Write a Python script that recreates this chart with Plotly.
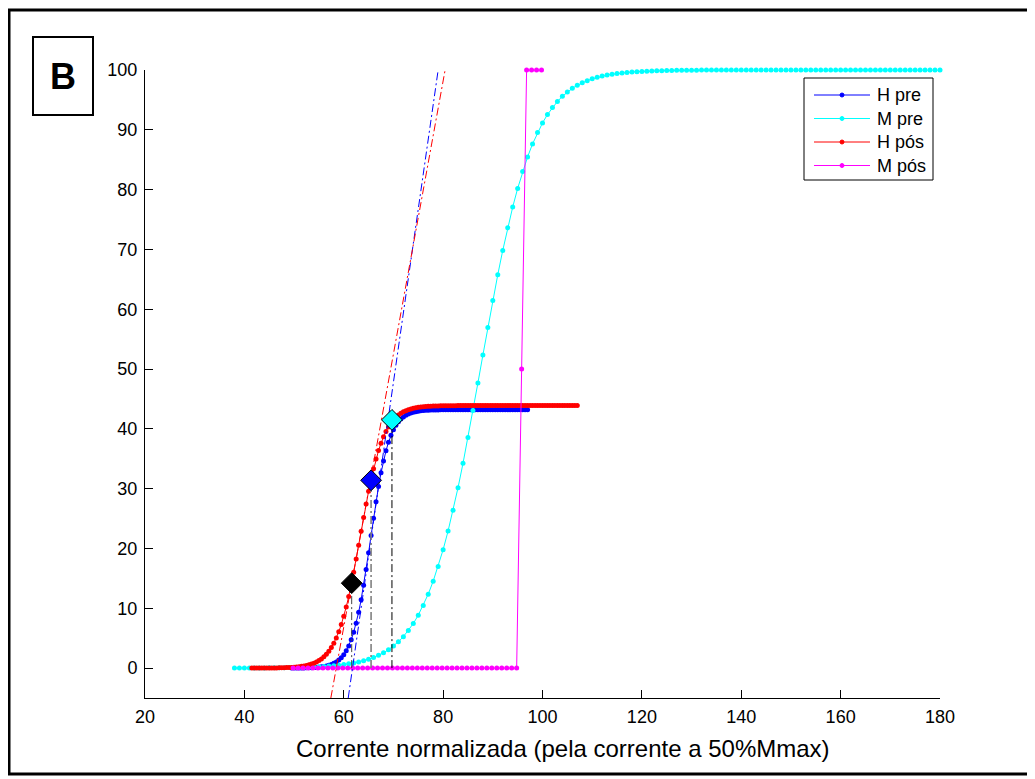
import plotly.graph_objects as go

# ---------------- data ----------------
blue_x = [
    49.5, 50.0, 50.5, 51.0, 51.5, 52.0, 52.5, 53.0, 53.5, 54.0,
    54.5, 55.0, 55.5, 56.0, 56.5, 57.0, 57.5, 58.0, 58.5, 59.0,
    59.5, 60.0, 60.5, 61.0, 61.5, 62.0, 62.5, 63.0, 63.5, 64.0,
    64.5, 65.0, 65.5, 66.0, 66.5, 67.0, 67.5, 68.0, 68.5, 69.0,
    69.5, 70.0, 70.5, 71.0, 71.5, 72.0, 72.5, 73.0, 73.5, 74.0,
    74.5, 75.0, 75.5, 76.0, 76.5, 77.0, 77.5, 78.0, 78.5, 79.0,
    79.5, 80.0, 80.5, 81.0, 81.5, 82.0, 82.5, 83.0, 83.5, 84.0,
    84.5, 85.0, 85.5, 86.0, 86.5, 87.0, 87.5, 88.0, 88.5, 89.0,
    89.5, 90.0, 90.5, 91.0, 91.5, 92.0, 92.5, 93.0, 93.5, 94.0,
    94.5, 95.0, 95.5, 96.0, 96.5, 97.0]
blue_y = [
    0.01, 0.01, 0.01, 0.02, 0.02, 0.03, 0.04, 0.05, 0.07, 0.09,
    0.12, 0.16, 0.21, 0.28, 0.36, 0.47, 0.61, 0.79, 1.03, 1.34,
    1.74, 2.25, 2.89, 3.71, 4.73, 5.98, 7.51, 9.33, 11.43, 13.85,
    16.49, 19.29, 22.19, 25.06, 27.80, 30.36, 32.65, 34.64, 36.33, 37.76,
    38.92, 39.84, 40.59, 41.17, 41.64, 41.99, 42.27, 42.49, 42.65, 42.78,
    42.88, 42.95, 43.01, 43.06, 43.10, 43.12, 43.14, 43.15, 43.16, 43.17,
    43.18, 43.18, 43.19, 43.19, 43.19, 43.2, 43.2, 43.2, 43.2, 43.2,
    43.2, 43.2, 43.2, 43.2, 43.2, 43.2, 43.2, 43.2, 43.2, 43.2,
    43.2, 43.2, 43.2, 43.2, 43.2, 43.2, 43.2, 43.2, 43.2, 43.2,
    43.2, 43.2, 43.2, 43.2, 43.2, 43.2]

cyan_x = [
    38, 39, 40, 41, 42, 43, 44, 45, 46, 47,
    48, 49, 50, 51, 52, 53, 54, 55, 56, 57,
    58, 59, 60, 61, 62, 63, 64, 65, 66, 67,
    68, 69, 70, 71, 72, 73, 74, 75, 76, 77,
    78, 79, 80, 81, 82, 83, 84, 85, 86, 87,
    88, 89, 90, 91, 92, 93, 94, 95, 96, 97,
    98, 99, 100, 101, 102, 103, 104, 105, 106, 107,
    108, 109, 110, 111, 112, 113, 114, 115, 116, 117,
    118, 119, 120, 121, 122, 123, 124, 125, 126, 127,
    128, 129, 130, 131, 132, 133, 134, 135, 136, 137,
    138, 139, 140, 141, 142, 143, 144, 145, 146, 147,
    148, 149, 150, 151, 152, 153, 154, 155, 156, 157,
    158, 159, 160, 161, 162, 163, 164, 165, 166, 167,
    168, 169, 170, 171, 172, 173, 174, 175, 176, 177,
    178, 179, 180]
cyan_y = [
    0.01, 0.01, 0.01, 0.02, 0.02, 0.02, 0.03, 0.04, 0.04, 0.05,
    0.06, 0.08, 0.09, 0.11, 0.13, 0.16, 0.19, 0.23, 0.28, 0.34,
    0.41, 0.49, 0.59, 0.71, 0.85, 1.03, 1.23, 1.48, 1.78, 2.14,
    2.56, 3.07, 3.68, 4.40, 5.26, 6.27, 7.45, 8.85, 10.47, 12.36,
    14.53, 16.99, 19.80, 22.92, 26.38, 30.16, 34.23, 38.55, 43.05, 47.67,
    52.33, 56.95, 61.45, 65.77, 69.84, 73.62, 77.08, 80.20, 83.01, 85.47,
    87.64, 89.53, 91.15, 92.55, 93.73, 94.74, 95.60, 96.32, 96.93, 97.44,
    97.86, 98.22, 98.52, 98.77, 98.98, 99.15, 99.29, 99.41, 99.51, 99.60,
    99.66, 99.72, 99.77, 99.81, 99.84, 99.87, 99.89, 99.91, 99.93, 99.94,
    99.95, 99.96, 99.97, 99.97, 99.98, 99.98, 99.99, 99.99, 99.99, 99.99,
    100.0, 100.0, 100.0, 100.0, 100.0, 100.0, 100.0, 100.0, 100.0, 100.0,
    100.0, 100.0, 100.0, 100.0, 100.0, 100.0, 100.0, 100.0, 100.0, 100.0,
    100.0, 100.0, 100.0, 100.0, 100.0, 100.0, 100.0, 100.0, 100.0, 100.0,
    100.0, 100.0, 100.0, 100.0, 100.0, 100.0, 100.0, 100.0, 100.0, 100.0,
    100.0, 100.0, 100.0]

red_x = [
    41.5, 42.0, 42.5, 43.0, 43.5, 44.0, 44.5, 45.0, 45.5, 46.0,
    46.5, 47.0, 47.5, 48.0, 48.5, 49.0, 49.5, 50.0, 50.5, 51.0,
    51.5, 52.0, 52.5, 53.0, 53.5, 54.0, 54.5, 55.0, 55.5, 56.0,
    56.5, 57.0, 57.5, 58.0, 58.5, 59.0, 59.5, 60.0, 60.5, 61.0,
    61.5, 62.0, 62.5, 63.0, 63.5, 64.0, 64.5, 65.0, 65.5, 66.0,
    66.5, 67.0, 67.5, 68.0, 68.5, 69.0, 69.5, 70.0, 70.5, 71.0,
    71.5, 72.0, 72.5, 73.0, 73.5, 74.0, 74.5, 75.0, 75.5, 76.0,
    76.5, 77.0, 77.5, 78.0, 78.5, 79.0, 79.5, 80.0, 80.5, 81.0,
    81.5, 82.0, 82.5, 83.0, 83.5, 84.0, 84.5, 85.0, 85.5, 86.0,
    86.5, 87.0, 87.5, 88.0, 88.5, 89.0, 89.5, 90.0, 90.5, 91.0,
    91.5, 92.0, 92.5, 93.0, 93.5, 94.0, 94.5, 95.0, 95.5, 96.0,
    96.5, 97.0, 97.5, 98.0, 98.5, 99.0, 99.5, 100.0, 100.5, 101.0,
    101.5, 102.0, 102.5, 103.0, 103.5, 104.0, 104.5, 105.0, 105.5, 106.0,
    106.5, 107.0]
red_y = [
    0.01, 0.01, 0.01, 0.01, 0.01, 0.01, 0.02, 0.02, 0.02, 0.03,
    0.03, 0.04, 0.05, 0.07, 0.08, 0.10, 0.12, 0.15, 0.19, 0.23,
    0.29, 0.36, 0.44, 0.54, 0.67, 0.82, 1.01, 1.25, 1.53, 1.88,
    2.30, 2.81, 3.43, 4.17, 5.04, 6.07, 7.27, 8.66, 10.23, 11.99,
    13.93, 16.02, 18.25, 20.55, 22.89, 25.20, 27.44, 29.56, 31.54, 33.33,
    34.95, 36.37, 37.60, 38.67, 39.57, 40.33, 40.97, 41.50, 41.94, 42.31,
    42.60, 42.84, 43.04, 43.20, 43.34, 43.44, 43.53, 43.60, 43.66, 43.70,
    43.74, 43.77, 43.79, 43.81, 43.83, 43.84, 43.85, 43.86, 43.87, 43.87,
    43.88, 43.88, 43.88, 43.89, 43.89, 43.89, 43.89, 43.9, 43.9, 43.9,
    43.9, 43.9, 43.9, 43.9, 43.9, 43.9, 43.9, 43.9, 43.9, 43.9,
    43.9, 43.9, 43.9, 43.9, 43.9, 43.9, 43.9, 43.9, 43.9, 43.9,
    43.9, 43.9, 43.9, 43.9, 43.9, 43.9, 43.9, 43.9, 43.9, 43.9,
    43.9, 43.9, 43.9, 43.9, 43.9, 43.9, 43.9, 43.9, 43.9, 43.9,
    43.9, 43.9]

magenta_x = [
    49.8, 50.8, 51.8, 52.8, 53.8, 54.8, 55.8, 56.8, 57.8, 58.8,
    59.8, 60.8, 61.8, 62.8, 63.8, 64.8, 65.8, 66.8, 67.8, 68.8,
    69.8, 70.8, 71.8, 72.8, 73.8, 74.8, 75.8, 76.8, 77.8, 78.8,
    79.8, 80.8, 81.8, 82.8, 83.8, 84.8, 85.8, 86.8, 87.8, 88.8,
    89.8, 90.8, 91.8, 92.8, 93.8, 94.8, 95.8, 96.8, 97.8, 98.8,
    99.8]
magenta_y = [
    0, 0, 0, 0, 0, 0, 0, 0, 0, 0,
    0, 0, 0, 0, 0, 0, 0, 0, 0, 0,
    0, 0, 0, 0, 0, 0, 0, 0, 0, 0,
    0, 0, 0, 0, 0, 0, 0, 0, 0, 0,
    0, 0, 0, 0, 0, 0, 50, 100, 100, 100,
    100]

series_names = ["H pre", "M pre", "H pós", "M pós"]
series_colors = ["#0000ff", "#00ffff", "#ff0000", "#ff00ff"]

# tangent (slope) lines through the steep part of H pre / H pós
tangent_y = [-5, 100]
tangent_blue_x = [60.9, 79.0]
tangent_red_x = [57.4, 80.4]

# diamond markers on the H pós curve and their drop lines
diamond_x = [61.6, 65.5, 69.7]
diamond_y = [14.2, 31.4, 41.5]

x_ticks = [20, 40, 60, 80, 100, 120, 140, 160, 180]
y_ticks = [0, 10, 20, 30, 40, 50, 60, 70, 80, 90, 100]
x_title = "Corrente normalizada (pela corrente a 50%Mmax)"
panel_label = "B"

# ---------------- styling / layout ----------------
FONT = "Liberation Sans, Arial, sans-serif"
OFF = 8                      # default page body margin
PAGE_W, PAGE_H = 1035, 779
W, H = PAGE_W - OFF, PAGE_H - OFF
PL, PR, PT, PB = 145, 940, 70, 698  # plot area in page pixels


def fx(p):
    return (p - PL) / (PR - PL)


def fy(p):
    return (PB - p) / (PB - PT)


fig = go.Figure()

curves = [(blue_x, blue_y), (cyan_x, cyan_y), (red_x, red_y), (magenta_x, magenta_y)]
for (xs, ys), name, col in zip(curves, series_names, series_colors):
    fig.add_trace(go.Scatter(
        x=xs, y=ys, mode="lines+markers", name=name, showlegend=False,
        line=dict(color=col, width=1),
        marker=dict(color=col, size=5, symbol="circle"),
        cliponaxis=False,
    ))

dd = "8px,3px,2px,3px"
fig.add_trace(go.Scatter(x=tangent_blue_x, y=tangent_y, mode="lines",
                         line=dict(color="#0000ff", width=1, dash=dd),
                         showlegend=False, hoverinfo="skip"))
fig.add_trace(go.Scatter(x=tangent_red_x, y=tangent_y, mode="lines",
                         line=dict(color="#ff0000", width=1, dash=dd),
                         showlegend=False, hoverinfo="skip"))

drop_colors = ["#444444", "#808080", "#000000"]
drop_widths = [1, 1.6, 1]
for xv, yv, c, w in zip(diamond_x, diamond_y, drop_colors, drop_widths):
    fig.add_trace(go.Scatter(x=[xv, xv], y=[0, yv], mode="lines",
                             line=dict(color=c, width=w, dash=dd),
                             showlegend=False, hoverinfo="skip"))

fig.add_trace(go.Scatter(
    x=diamond_x, y=diamond_y, mode="markers", showlegend=False,
    marker=dict(symbol="diamond", size=16,
                color=["#000000", "#0000ff", "#00ffff"],
                line=dict(color="#000000", width=1)),
))

axis_common = dict(
    showgrid=False, zeroline=False, showline=True, linecolor="#000000",
    linewidth=1, ticks="inside", ticklen=8, tickcolor="#000000",
    tickfont=dict(family=FONT, size=18, color="#000000"), mirror=False,
)
fig.update_xaxes(range=[20, 180], tickvals=x_ticks, ticklabelstandoff=2,
                 **axis_common)
fig.update_yaxes(range=[-5, 100], tickvals=y_ticks, ticklabelstandoff=3,
                 **axis_common)

# ---- shapes: outer frame, panel-label box, legend box ----
shapes = [
    dict(type="rect", xref="paper", yref="paper",
         x0=fx(9), x1=fx(1030), y0=fy(774), y1=fy(10),
         line=dict(color="#000000", width=3), layer="above"),
    dict(type="rect", xref="paper", yref="paper",
         x0=fx(33), x1=fx(93), y0=fy(115), y1=fy(37),
         line=dict(color="#000000", width=2), fillcolor="#ffffff"),
    dict(type="rect", xref="paper", yref="paper",
         x0=fx(804), x1=fx(933), y0=fy(180), y1=fy(78),
         line=dict(color="#000000", width=1), fillcolor="#ffffff", layer="above"),
]
annotations = [
    dict(text="<b>%s</b>" % panel_label, xref="paper", yref="paper",
         x=fx(63), y=fy(76), xanchor="center", yanchor="middle",
         showarrow=False, font=dict(family=FONT, size=36, color="#000000")),
    dict(text=x_title, xref="paper", yref="paper",
         x=fx(563), y=fy(748), xanchor="center", yanchor="middle",
         showarrow=False, font=dict(family=FONT, size=24, color="#000000")),
]
# legend entries (line sample, dot, label)
legend_rows = [95, 118.5, 142, 165.5]
for name, col, ry in zip(series_names, series_colors, legend_rows):
    shapes.append(dict(type="line", xref="paper", yref="paper",
                       x0=fx(814), x1=fx(870), y0=fy(ry), y1=fy(ry),
                       line=dict(color=col, width=1), layer="above"))
    shapes.append(dict(type="circle", xref="paper", yref="paper",
                       x0=fx(840), x1=fx(844), y0=fy(ry + 2), y1=fy(ry - 2),
                       line=dict(color=col, width=1), fillcolor=col, layer="above"))
    annotations.append(dict(text=name, xref="paper", yref="paper",
                            x=fx(875), y=fy(ry), xanchor="left", yanchor="middle",
                            showarrow=False,
                            font=dict(family=FONT, size=18, color="#000000")))

fig.update_layout(
    width=W, height=H, autosize=False,
    margin=dict(l=PL - OFF, r=PAGE_W - PR, t=PT - OFF, b=PAGE_H - PB),
    paper_bgcolor="#ffffff", plot_bgcolor="#ffffff",
    font=dict(family=FONT, color="#000000"),
    showlegend=False,
    shapes=shapes,
    annotations=annotations,
)

fig.write_html("out.html")
